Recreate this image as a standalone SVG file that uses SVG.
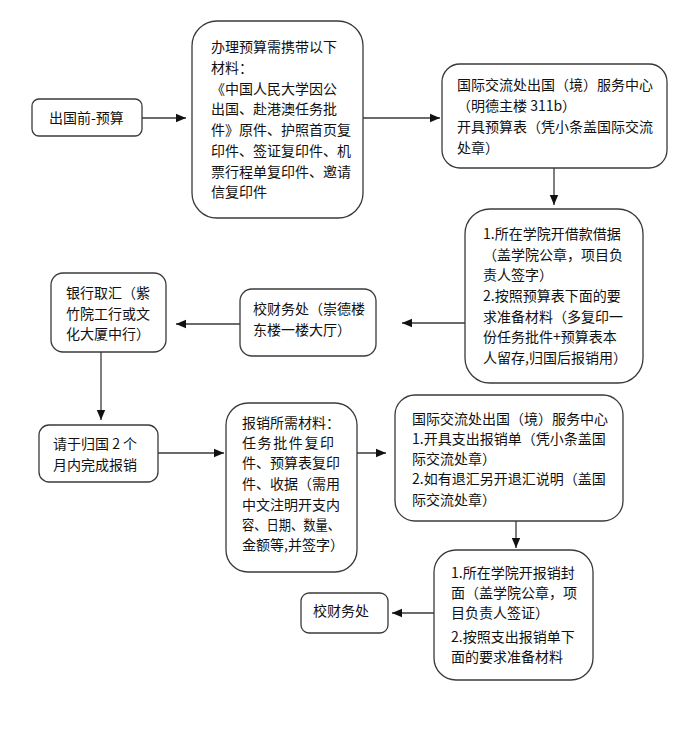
<svg xmlns="http://www.w3.org/2000/svg" width="678" height="737" viewBox="0 0 678 737">
<style>
.box{fill:#ffffff;stroke:#3a3a3a;stroke-width:1.3}
.t{font-family:"Noto Sans CJK SC","Liberation Sans",sans-serif;font-size:14px;fill:#111}
.c{fill:none;stroke:#3a3a3a;stroke-width:1.3;marker-end:url(#ah)}
</style>
<defs>
<marker id="ah" markerUnits="userSpaceOnUse" markerWidth="10" markerHeight="10" viewBox="0 0 10 10" refX="10" refY="5" orient="auto">
<path d="M0,0.8 L10,5 L0,9.2 Z" fill="#111"/>
</marker>
</defs>
<rect width="678" height="737" fill="#ffffff"/>

<g id="connectors">
<line class="c" x1="142" y1="118" x2="186" y2="118"/>
<line class="c" x1="363" y1="118" x2="440" y2="118"/>
<line class="c" x1="554" y1="168" x2="554" y2="205"/>
<line class="c" x1="465" y1="323" x2="402" y2="323"/>
<line class="c" x1="240" y1="324" x2="176" y2="324"/>
<line class="c" x1="101" y1="352" x2="101" y2="420"/>
<line class="c" x1="158" y1="453" x2="224" y2="453"/>
<line class="c" x1="348" y1="453" x2="386" y2="453"/>
<line class="c" x1="516" y1="521" x2="516" y2="548"/>
<line class="c" x1="434" y1="613" x2="392" y2="613"/>
</g>

<g id="n1">
<rect class="box" x="32" y="99" width="110" height="37" rx="7"/>
<text class="t" x="49" y="123">出国前-预算</text>
</g>

<g id="n2">
<rect class="box" x="192" y="21" width="171" height="197" rx="25"/>
<text class="t" font-size="14.6px">
<tspan x="211" y="52">办理预算需携带以下</tspan>
<tspan x="211" y="73">材料：</tspan>
<tspan x="211" y="94">《中国人民大学因公</tspan>
<tspan x="211" y="114">出国、赴港澳任务批</tspan>
<tspan x="211" y="135">件》原件、护照首页复</tspan>
<tspan x="211" y="156">印件、签证复印件、机</tspan>
<tspan x="211" y="177">票行程单复印件、邀请</tspan>
<tspan x="211" y="197">信复印件</tspan>
</text>
</g>

<g id="n3">
<rect class="box" x="442" y="64" width="225" height="104" rx="18"/>
<text class="t">
<tspan x="457" y="90">国际交流处出国（境）服务中心</tspan>
<tspan x="457" y="111">（明德主楼 311b）</tspan>
<tspan x="457" y="132">开具预算表（凭小条盖国际交流</tspan>
<tspan x="457" y="153">处章）</tspan>
</text>
</g>

<g id="n4">
<rect class="box" x="465" y="209" width="178" height="174" rx="25"/>
<text class="t">
<tspan x="483" y="239">1.所在学院开借款借据</tspan>
<tspan x="483" y="260">（盖学院公章，项目负</tspan>
<tspan x="483" y="280">责人签字）</tspan>
<tspan x="483" y="301">2.按照预算表下面的要</tspan>
<tspan x="483" y="322">求准备材料（多复印一</tspan>
<tspan x="483" y="342">份任务批件+预算表本</tspan>
<tspan x="483" y="363">人留存,归国后报销用）</tspan>
</text>
</g>

<g id="n5">
<rect class="box" x="240" y="289" width="136" height="67" rx="12"/>
<text class="t">
<tspan x="253" y="314">校财务处（崇德楼</tspan>
<tspan x="253" y="335">东楼一楼大厅）</tspan>
</text>
</g>

<g id="n6">
<rect class="box" x="51" y="273" width="115" height="79" rx="12"/>
<text class="t">
<tspan x="66" y="298">银行取汇（紫</tspan>
<tspan x="66" y="319">竹院工行或文</tspan>
<tspan x="66" y="339">化大厦中行）</tspan>
</text>
</g>

<g id="n7">
<rect class="box" x="39" y="425" width="119" height="57" rx="10"/>
<text class="t">
<tspan x="53" y="449">请于归国 2 个</tspan>
<tspan x="53" y="470">月内完成报销</tspan>
</text>
</g>

<g id="n8">
<rect class="box" x="226" y="403" width="131" height="169" rx="22"/>
<text class="t" font-size="13.3px">
<tspan x="242" y="428">报销所需材料：</tspan>
<tspan x="242" y="448" textLength="92" lengthAdjust="spacing">任务批件复印</tspan>
<tspan x="242" y="468">件、预算表复印</tspan>
<tspan x="242" y="489">件、收据（需用</tspan>
<tspan x="242" y="510">中文注明开支内</tspan>
<tspan x="242" y="530" textLength="98" lengthAdjust="spacingAndGlyphs">容、日期、数量、</tspan>
<tspan x="242" y="550">金额等,并签字）</tspan>
</text>
</g>

<g id="n9">
<rect class="box" x="395" y="395" width="228" height="126" rx="20"/>
<text class="t">
<tspan x="412" y="424">国际交流处出国（境）服务中心</tspan>
<tspan x="412" y="444">1.开具支出报销单（凭小条盖国</tspan>
<tspan x="412" y="464">际交流处章）</tspan>
<tspan x="412" y="484">2.如有退汇另开退汇说明（盖国</tspan>
<tspan x="412" y="505">际交流处章）</tspan>
</text>
</g>

<g id="n10">
<rect class="box" x="434" y="550" width="159" height="130" rx="22"/>
<text class="t">
<tspan x="451" y="578">1.所在学院开报销封</tspan>
<tspan x="451" y="598">面（盖学院公章，项</tspan>
<tspan x="451" y="618">目负责人签证）</tspan>
<tspan x="451" y="642">2.按照支出报销单下</tspan>
<tspan x="451" y="662">面的要求准备材料</tspan>
</text>
</g>

<g id="n11">
<rect class="box" x="301" y="593" width="87" height="40" rx="8"/>
<text class="t" x="313" y="616">校财务处</text>
</g>
</svg>
